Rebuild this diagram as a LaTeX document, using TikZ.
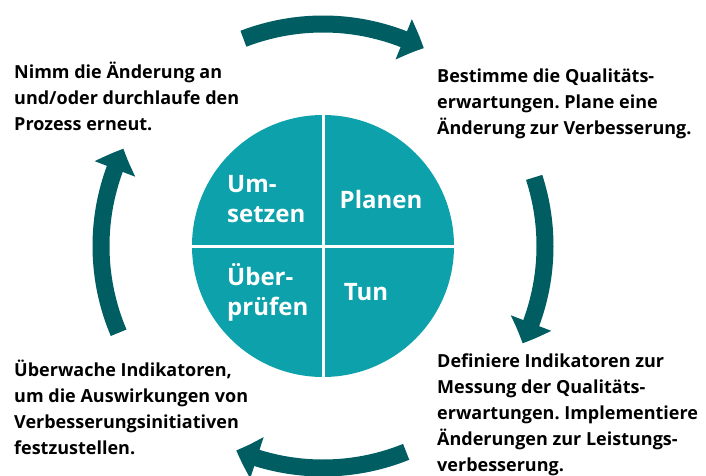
\documentclass[tikz,border=0pt]{standalone}
\usepackage{fontspec}
\setmainfont{Open Sans}
\usepackage{tikz}
\usetikzlibrary{arrows.meta,bending,positioning}
\frenchspacing

\definecolor{wheelteal}{RGB}{12,161,171}
\definecolor{arrowteal}{RGB}{0,94,99}

\begin{document}
\begin{tikzpicture}[x=1pt,y=1pt,
    wheel/.style={circle,fill=wheelteal,inner sep=0pt,minimum size=262pt},
    splitline/.style={draw=white,line width=3pt},
    quadtext/.style={text=white,inner sep=0pt,font=\fontsize{24}{30}\selectfont\bfseries},
    stepnote/.style={anchor=base west,align=left,inner sep=0pt,font=\fontsize{18}{26}\selectfont\bfseries},
    cycarrow/.style={draw=arrowteal,line width=17pt,-{Triangle[width=42pt,length=22pt,bend]}}]
		\useasboundingbox (-323,-229) rectangle (383,246);
		% wheel in the middle
		\node [wheel] (w) at (0,0) {};
		\draw [splitline] (w.north) -- (w.south);
		\draw [splitline] (w.west) -- (w.east);
		\node [quadtext,anchor=base west,align=left] (act) at (-96,24) {Um-\\setzen};
		\node [quadtext,anchor=base] (plan) at (58,38) {Planen};
		\node [quadtext,anchor=base west,align=left] (check) at (-96,-69) {Über-\\prüfen};
		\node [quadtext,anchor=base] (do) at (43,-54) {Tun};
		% texts in the corners (base = last line)
		\node [stepnote] (tl) at (-309,116) {Nimm die Änderung an\\und/oder durchlaufe den\\Prozess erneut.};
		\node [stepnote] (tr) at (114,112) {Bestimme die Qualitäts-\\erwartungen. Plane eine\\Änderung zur Verbesserung.};
		\node [stepnote] (bl) at (-309,-208) {Überwache Indikatoren,\\um die Auswirkungen von\\Verbesserungsinitiativen\\festzustellen.};
		\node [stepnote] (br) at (114,-225) {Definiere Indikatoren zur\\Messung der Qualitäts-\\erwartungen. Implementiere\\Änderungen zur Leistungs-\\verbesserung.};
		% arrows round the wheel
		\coordinate (a1) at (111:222);
		\coordinate (a2) at (18:222);
		\coordinate (a3) at (-68:222);
		\coordinate (a4) at (203:222);
		\draw [cycarrow] (a1) arc[start angle=111,end angle=63,radius=222pt];
		\draw [cycarrow] (a2) arc[start angle=18,end angle=-26,radius=222pt];
		\draw [cycarrow] (a3) arc[start angle=-68,end angle=-113,radius=222pt];
		\draw [cycarrow] (a4) arc[start angle=203,end angle=154,radius=222pt];
	\end{tikzpicture}
\end{document}
